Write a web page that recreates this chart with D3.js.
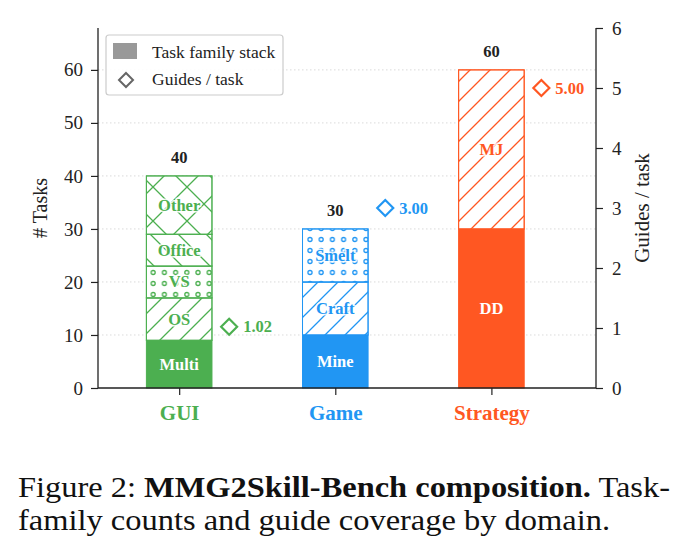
<!DOCTYPE html>
<html>
<head>
<meta charset="utf-8">
<script src="https://cdn.jsdelivr.net/npm/d3@7"></script>
<style>
  body { margin: 0; background: #fff; }
  svg { display: block; }
  text { font-family: "Liberation Serif", "Times New Roman", serif; }
</style>
</head>
<body>
<div id="chart"></div>
<script>
// domains and their colours
var domains = ["GUI", "Game", "Strategy"];
var domainColors = ["#4CAF50", "#2196F3", "#FF5722"];

// task families stacked inside each domain (bottom -> top)
var familyNames = [["Multi", "OS", "VS", "Office", "Other"], ["Mine", "Craft", "Smelt"], ["DD", "MJ"]];
var familyCounts = [[9, 8, 6, 6, 11], [10, 10, 10], [30, 30]];
var familyHatch = [["solid", "fwd", "dots", "back", "cross"], ["solid", "fwd", "dots"], ["solid", "fwd"]];

// guides per task (right axis)
var guidesPerTask = [1.02, 3.00, 5.00];

var leftTicks = [0, 10, 20, 30, 40, 50, 60];
var rightTicks = [0, 1, 2, 3, 4, 5, 6];

var W = 689, H = 551;
var plot = {left: 98, right: 596, top: 28, bottom: 388};

var svg = d3.select("#chart").append("svg")
    .attr("width", W).attr("height", H);
svg.append("rect").attr("width", W).attr("height", H).attr("fill", "#fff");

var x = d3.scaleLinear().domain([-0.52, 2.67]).range([plot.left, plot.right]);
var y = d3.scaleLinear().domain([0, 67.9]).range([plot.bottom, plot.top]);
var y2 = d3.scaleLinear().domain([0, 6]).range([plot.bottom, plot.top]);
var barW = x(0.42) - x(0);

// hatch patterns
var defs = svg.append("defs");
function addPatterns(color, i) {
  var p = defs.append("pattern").attr("id", "fwd" + i)
    .attr("patternUnits", "userSpaceOnUse").attr("width", 20).attr("height", 20);
  p.append("path").attr("d", "M0,20L20,0M-5,5L5,-5M15,25L25,15")
    .attr("stroke", color).attr("stroke-width", 1.3).attr("fill", "none");

  p = defs.append("pattern").attr("id", "back" + i)
    .attr("patternUnits", "userSpaceOnUse").attr("width", 28).attr("height", 28);
  p.append("path").attr("d", "M0,0L28,28M-7,21L7,35M21,-7L35,7")
    .attr("stroke", color).attr("stroke-width", 1.3).attr("fill", "none");

  p = defs.append("pattern").attr("id", "cross" + i)
    .attr("patternUnits", "userSpaceOnUse").attr("width", 34).attr("height", 34);
  p.append("path").attr("d", "M0,0L34,34M0,34L34,0M-8,8L8,-8M26,42L42,26M-8,26L8,42M26,-8L42,8")
    .attr("stroke", color).attr("stroke-width", 1.3).attr("fill", "none");

  p = defs.append("pattern").attr("id", "dots" + i)
    .attr("patternUnits", "userSpaceOnUse").attr("width", 11.2).attr("height", 11)
    .attr("x", 2).attr("y", 3);
  p.append("circle").attr("cx", 5.6).attr("cy", 5.5).attr("r", 2)
    .attr("stroke", color).attr("stroke-width", 1.3).attr("fill", "#fff");
}
domainColors.forEach(addPatterns);

// grid
svg.append("g").selectAll("line")
  .data(leftTicks.filter(function(d) { return d > 0; }))
  .enter().append("line")
    .attr("x1", plot.left).attr("x2", plot.right)
    .attr("y1", function(d) { return y(d); }).attr("y2", function(d) { return y(d); })
    .attr("stroke", "#d0d0d0").attr("stroke-width", 0.8).attr("stroke-dasharray", "1.5,2.5");

// stacked bars
domains.forEach(function(dom, i) {
  var g = svg.append("g");
  var color = domainColors[i];
  var base = 0;
  familyCounts[i].forEach(function(c, j) {
    var y0 = base, y1 = base + c;
    base = y1;
    var kind = familyHatch[i][j];
    g.append("rect")
      .attr("x", x(i) - barW / 2).attr("width", barW)
      .attr("y", y(y1)).attr("height", y(y0) - y(y1))
      .attr("fill", kind == "solid" ? color : "#fff")
      .attr("stroke", color).attr("stroke-width", 1);
    if (kind != "solid") {
      g.append("rect")
        .attr("x", x(i) - barW / 2).attr("width", barW)
        .attr("y", y(y1)).attr("height", y(y0) - y(y1))
        .attr("fill", "url(#" + kind + i + ")")
        .attr("stroke", color).attr("stroke-width", 1);
    }
    var t = g.append("text")
      .attr("x", x(i)).attr("y", (y(y0) + y(y1)) / 2 + 5.5)
      .attr("text-anchor", "middle")
      .attr("font-size", 16.5).attr("font-weight", "bold")
      .text(familyNames[i][j]);
    if (kind == "solid") {
      t.attr("fill", "#fff");
    } else {
      t.attr("fill", color).attr("stroke", "rgba(255,255,255,0.85)").attr("stroke-width", 3)
        .attr("stroke-linejoin", "round").attr("paint-order", "stroke");
    }
  });
  // total on top
  svg.append("text")
    .attr("x", x(i)).attr("y", y(base) - 13)
    .attr("text-anchor", "middle").attr("font-size", 16.5).attr("font-weight", "bold")
    .attr("fill", "#222").text(base);

  // guides per task diamond
  var dx = x(i + 0.32), dy = y2(guidesPerTask[i]);
  svg.append("path")
    .attr("d", "M" + dx + "," + (dy - 8) + "L" + (dx + 8) + "," + dy + "L" + dx + "," + (dy + 8) + "L" + (dx - 8) + "," + dy + "Z")
    .attr("fill", "#fff").attr("stroke", color).attr("stroke-width", 2.2);
  svg.append("text")
    .attr("x", dx + 14).attr("y", dy + 5.5)
    .attr("font-size", 16.5).attr("font-weight", "bold")
    .attr("fill", color).text(guidesPerTask[i].toFixed(2));
});

// axes
var leftAxis = svg.append("g")
  .attr("transform", "translate(" + plot.left + ",0)")
  .call(d3.axisLeft(y).tickValues(leftTicks).tickSize(7).tickPadding(8));
var rightAxis = svg.append("g")
  .attr("transform", "translate(" + plot.right + ",0)")
  .call(d3.axisRight(y2).tickValues(rightTicks).tickSize(7).tickPadding(9).tickFormat(d3.format("d")));
var bottomAxis = svg.append("g")
  .attr("transform", "translate(0," + plot.bottom + ")")
  .call(d3.axisBottom(x).tickValues([0, 1, 2]).tickSize(7).tickPadding(10)
    .tickFormat(function(d) { return domains[d]; }));

[leftAxis, rightAxis, bottomAxis].forEach(function(a) {
  a.select(".domain").remove();
  a.selectAll(".tick line").attr("stroke", "#222").attr("stroke-width", 1.2);
  a.selectAll("text").attr("fill", "#222").attr("font-size", 19);
});
bottomAxis.selectAll("text")
  .attr("font-size", 21).attr("font-weight", "bold")
  .attr("fill", function(d) { return domainColors[d]; });

// spines
svg.append("path")
  .attr("d", "M" + plot.left + "," + plot.top + "V" + plot.bottom + "H" + plot.right + "V" + plot.top)
  .attr("fill", "none").attr("stroke", "#222").attr("stroke-width", 1.3);

// axis titles
svg.append("text")
  .attr("transform", "translate(47," + ((plot.top + plot.bottom) / 2) + ") rotate(-90)")
  .attr("text-anchor", "middle").attr("font-size", 20).attr("fill", "#222")
  .text("# Tasks");
svg.append("text")
  .attr("transform", "translate(649," + ((plot.top + plot.bottom) / 2) + ") rotate(-90)")
  .attr("text-anchor", "middle").attr("font-size", 21).attr("fill", "#222")
  .text("Guides / task");

// legend
var lg = svg.append("g");
lg.append("rect").attr("x", 106).attr("y", 35).attr("width", 177).attr("height", 60)
  .attr("rx", 3).attr("fill", "rgba(255,255,255,0.9)").attr("stroke", "#cccccc").attr("stroke-width", 1.2);
lg.append("rect").attr("x", 113).attr("y", 43).attr("width", 24).attr("height", 16).attr("fill", "#999");
lg.append("text").attr("x", 152).attr("y", 58).attr("font-size", 17.5).attr("fill", "#222")
  .text("Task family stack");
lg.append("path").attr("d", "M126,73L133,80L126,87L119,80Z")
  .attr("fill", "#fff").attr("stroke", "#666").attr("stroke-width", 2);
lg.append("text").attr("x", 152).attr("y", 85).attr("font-size", 17.5).attr("fill", "#222")
  .text("Guides / task");

// caption
var cap = svg.append("g").attr("font-size", 30).attr("fill", "#111");
var l1 = cap.append("text").attr("x", 18).attr("y", 497)
  .attr("textLength", 652).attr("lengthAdjust", "spacingAndGlyphs");
l1.append("tspan").text("Figure 2: ");
l1.append("tspan").attr("font-weight", "bold").text("MMG2Skill-Bench composition.");
l1.append("tspan").text(" Task-");
cap.append("text").attr("x", 18).attr("y", 530)
  .attr("textLength", 592).attr("lengthAdjust", "spacingAndGlyphs")
  .text("family counts and guide coverage by domain.");
</script>
</body>
</html>
